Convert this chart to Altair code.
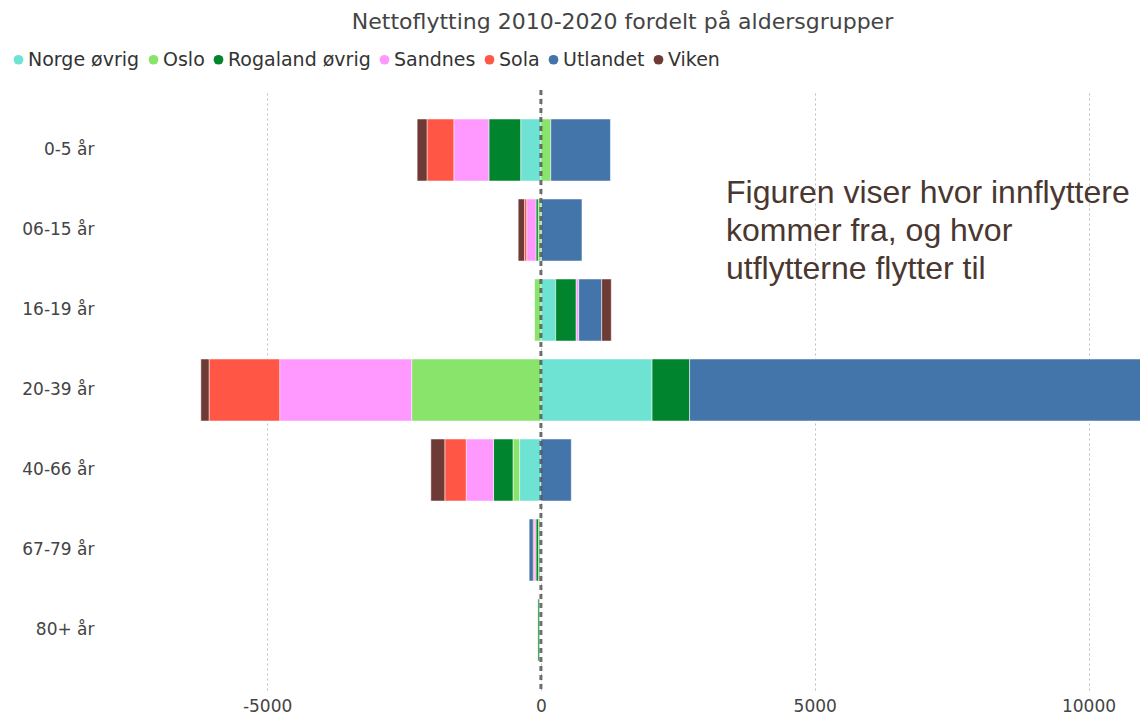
import altair as alt
import pandas as pd

ages = ["0-5 år", "06-15 år", "16-19 år", "20-39 år", "40-66 år", "67-79 år", "80+ år"]
origins = ["Norge øvrig", "Oslo", "Rogaland øvrig", "Sandnes", "Sola", "Utlandet", "Viken"]
colors = ["#6FE3D3", "#88E46A", "#00852E", "#FF99FF", "#FF5646", "#4475AA", "#6E3A36"]

norge_ovrig = [-370, 10, 270, 2030, -390, -15, -10]
oslo = [180, -50, -115, -2360, -120, -30, -20]
rogaland_ovrig = [-580, -40, 375, 685, -355, -45, -25]
sandnes = [-640, -170, 45, -2410, -500, -30, 0]
sola = [-490, -40, 0, -1290, -390, -20, 0]
utlandet = [1090, 740, 420, 9800, 555, -75, 0]
viken = [-180, -115, 175, -150, -255, 0, 0]

x_ticks = [-5000, 0, 5000, 10000]
note = "Figuren viser hvor innflyttere\nkommer fra, og hvor\nutflytterne flytter til"
title = "Nettoflytting 2010-2020 fordelt på aldersgrupper"

series = [norge_ovrig, oslo, rogaland_ovrig, sandnes, sola, utlandet, viken]
rows = []
for oi, (name, vals) in enumerate(zip(origins, series)):
    for age, v in zip(ages, vals):
        rows.append({"alder": age, "fra": name, "netto": v, "rekkefolge": oi})
df = pd.DataFrame(rows)

FONT = "DejaVu Sans"
x_scale = alt.Scale(domain=[-7960, 10940], nice=False, zero=False)

bars = alt.Chart(df).mark_bar(clip=True, stroke="white", strokeWidth=0.5).encode(
    y=alt.Y("alder:N", sort=ages,
            scale=alt.Scale(paddingInner=0.225, paddingOuter=0.3625),
            axis=alt.Axis(title=None, domain=False, ticks=False, labelPadding=11,
                          labelFont=FONT, labelFontSize=17, labelColor="#444")),
    x=alt.X("netto:Q", stack="zero", scale=x_scale,
            axis=alt.Axis(title=None, values=x_ticks, domain=False, ticks=False,
                          labelPadding=8, labelFont=FONT, labelFontSize=17,
                          labelColor="#444", format="d",
                          labelExpr="replace(datum.label, '\u2212', '-')",
                          grid=True, gridDash=[2, 3], gridColor="#bdbdbd", gridWidth=1)),
    color=alt.Color("fra:N", sort=origins,
                    scale=alt.Scale(domain=origins, range=colors),
                    legend=alt.Legend(title=None, orient="none", direction="horizontal",
                                      legendX=-96, legendY=-40, symbolType="circle",
                                      symbolSize=95, symbolStrokeWidth=0,
                                      labelFont=FONT, labelFontSize=19, labelColor="#333",
                                      labelOffset=0, columnPadding=4, padding=0)),
    order=alt.Order("rekkefolge:Q", sort="ascending"),
)

zero = alt.Chart(pd.DataFrame({"x0": [0]})).mark_rule(
    color="#555", strokeWidth=3, strokeDash=[5, 4], opacity=0.85
).encode(x=alt.X("x0:Q", scale=x_scale))

note_layer = alt.Chart(pd.DataFrame({"t": [note]})).mark_text(
    align="left", baseline="alphabetic", font="Liberation Sans", fontSize=32,
    lineHeight=38, lineBreak="\n", color="#4a372f"
).encode(text="t:N", x=alt.value(621), y=alt.value(113))

chart = alt.layer(bars, zero, note_layer).properties(
    width=1035, height=600,
    padding={"left": 97, "top": 82, "right": 0, "bottom": 26},
    autosize=alt.AutoSizeParams(type="none"),
    title=alt.TitleParams(title, anchor="middle", frame="group", font=FONT,
                          fontSize=22, fontWeight="normal", color="#444",
                          offset=16),
).configure_view(stroke=None)

chart.save("out.html", embed_options={"renderer": "svg", "actions": False})
